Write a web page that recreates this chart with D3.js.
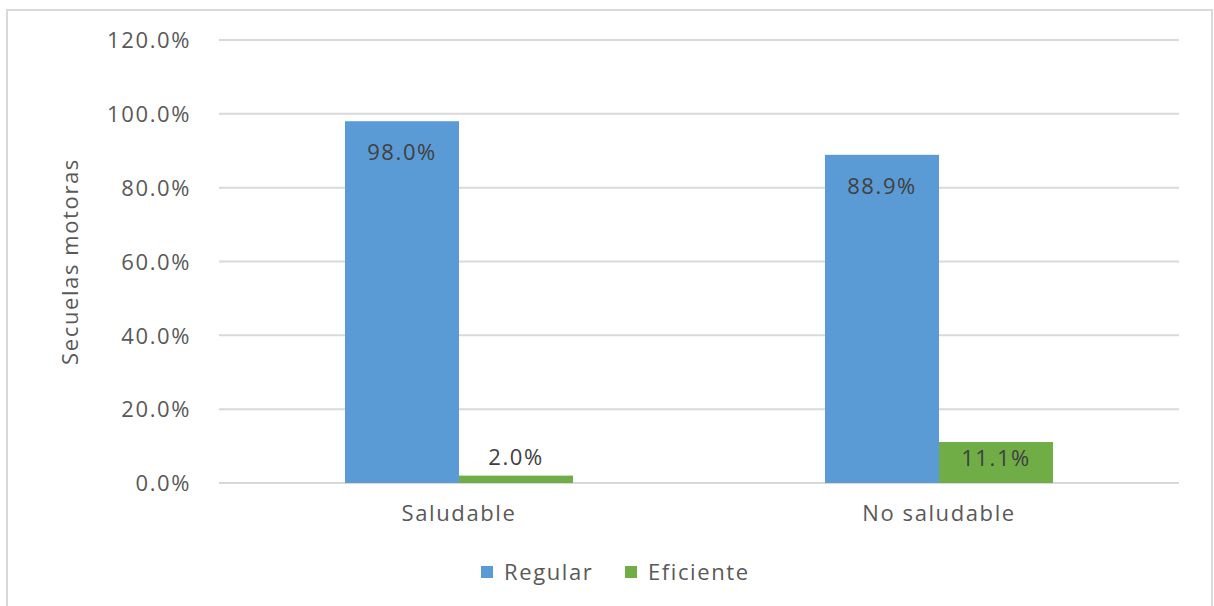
<!DOCTYPE html>
<html lang="es">
<head>
  <meta charset="UTF-8">
  <title>Secuelas motoras</title>
  <style>
    body { margin: 0; background: #fff; }
    svg text { font-family: "Open Sans", sans-serif; fill: #595959; font-size: 22px; letter-spacing: 1.6px; }
  </style>
</head>
<body>
  <div id="chart"></div>
  <script src="https://cdnjs.cloudflare.com/ajax/libs/d3/7.8.5/d3.min.js"></script>
  <script>
    const categories = ['Saludable', 'No saludable']
    const series = ['Regular', 'Eficiente']
    const regular = [0.98, 0.889]
    const eficiente = [0.02, 0.111]
    const yTicks = [0, 0.2, 0.4, 0.6, 0.8, 1.0, 1.2]
    const colors = ['#5B9BD5', '#70AD47']

    const W = 1214, H = 606
    const margin = { top: 40, right: 35, bottom: 123, left: 219 }
    const width = W - margin.left - margin.right
    const height = H - margin.top - margin.bottom

    const rows = categories.map((c, i) => ({
      cat: c,
      vals: [regular[i], eficiente[i]]
    }))

    const svg = d3.select('#chart').append('svg')
      .attr('width', W).attr('height', H)

    // outer chart border
    svg.append('rect')
      .attr('x', 7).attr('y', 10)
      .attr('width', W - 9).attr('height', H + 20)
      .attr('fill', 'none').attr('stroke', '#d9d9d9').attr('stroke-width', 2)

    const g = svg.append('g')
      .attr('transform', `translate(${margin.left},${margin.top})`)

    const x0 = d3.scaleBand().domain(categories).range([0, width])
      .paddingInner(0.525).paddingOuter(0.2625)
    const x1 = d3.scaleBand().domain(series).range([0, x0.bandwidth()])
    const y = d3.scaleLinear().domain([0, 1.2]).range([height, 0])

    // gridlines
    g.append('g').selectAll('line').data(yTicks).join('line')
      .attr('x1', 0).attr('x2', width)
      .attr('y1', d => y(d)).attr('y2', d => y(d))
      .attr('stroke', '#d9d9d9').attr('stroke-width', 2)

    // y axis labels
    const yAxis = g.append('g')
      .call(d3.axisLeft(y).tickValues(yTicks).tickFormat(d3.format('.1%')).tickSize(0).tickPadding(28))
    yAxis.select('.domain').remove()
    yAxis.selectAll('text').style('font-size', null).style('fill', '#595959')
      .attr('font-size', null).attr('font-family', null).attr('dy', '0.35em')

    // x axis labels
    const xAxis = g.append('g').attr('transform', `translate(0,${height})`)
      .call(d3.axisBottom(x0).tickSize(0).tickPadding(22))
    xAxis.select('.domain').remove()
    xAxis.attr('font-size', null).attr('font-family', null)
    yAxis.attr('font-size', null).attr('font-family', null)
    xAxis.selectAll('text').style('fill', '#595959')

    // bars
    const groups = g.selectAll('.grp').data(rows).join('g')
      .attr('class', 'grp')
      .attr('transform', d => `translate(${x0(d.cat)},0)`)

    groups.selectAll('rect')
      .data(d => d.vals.map((v, i) => ({ s: series[i], v, i })))
      .join('rect')
      .attr('x', d => x1(d.s))
      .attr('y', d => y(d.v))
      .attr('width', x1.bandwidth())
      .attr('height', d => height - y(d.v))
      .attr('fill', d => colors[d.i])

    // data labels
    groups.selectAll('.lbl')
      .data(d => d.vals.map((v, i) => ({ s: series[i], v, i })))
      .join('text')
      .attr('class', 'lbl')
      .attr('x', d => x1(d.s) + x1.bandwidth() / 2)
      .attr('y', d => {
        const top = y(d.v), h = height - top
        if (h < 30) return top - 11
        return Math.min(top + 39, height - 17)
      })
      .attr('text-anchor', 'middle')
      .style('fill', '#404040')
      .text(d => d3.format('.1%')(d.v))

    // y axis title
    svg.append('text')
      .attr('transform', `translate(78,${margin.top + height / 2}) rotate(-90)`)
      .attr('text-anchor', 'middle')
      .text('Secuelas motoras')

    // legend
    const legend = svg.append('g').attr('transform', 'translate(481,572)')
    const items = [{ name: series[0], x: 0 }, { name: series[1], x: 144 }]
    items.forEach((it, i) => {
      legend.append('rect').attr('x', it.x).attr('y', -6)
        .attr('width', 12).attr('height', 12).attr('fill', colors[i])
      legend.append('text').attr('x', it.x + 23).attr('y', 0).attr('dy', '0.35em')
        .text(it.name)
    })
  </script>
</body>
</html>
